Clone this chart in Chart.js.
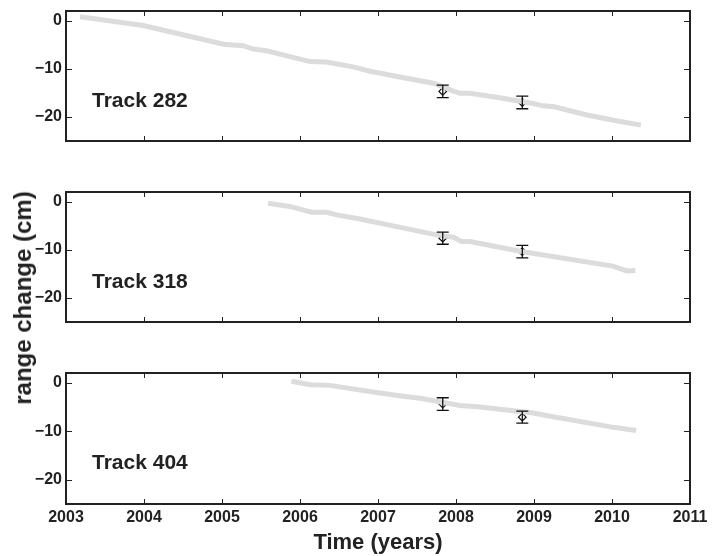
<!DOCTYPE html>
<html>
<head>
<meta charset="utf-8">
<script src="https://cdn.jsdelivr.net/npm/chart.js@4.4.0/dist/chart.umd.min.js"></script>
<style>
body{margin:0;background:#fff;}
#wrap{position:relative;width:714px;height:556px;}
.panel{position:absolute;left:0;width:714px;}
#ytitle{position:absolute;left:23px;top:298px;transform:translate(-50%,-50%) rotate(-90deg);
  font:bold 24px "Liberation Sans",Arial,sans-serif;color:#222;white-space:nowrap;}
</style>
</head>
<body>
<div id="wrap">
  <div class="panel" style="top:0;height:150px"><canvas id="c1"></canvas></div>
  <div class="panel" style="top:181px;height:150px"><canvas id="c2"></canvas></div>
  <div class="panel" style="top:362px;height:194px"><canvas id="c3"></canvas></div>
  <div id="ytitle">range change (cm)</div>
</div>
<script>
const xTicks = [2003, 2004, 2005, 2006, 2007, 2008, 2009, 2010, 2011];
const yTicks = [0, -10, -20];

// gray model lines
const t282Years = [2003.18, 2003.99, 2005.02, 2005.27, 2005.40, 2005.57, 2006.13, 2006.34, 2006.68, 2006.90, 2007.28, 2007.71, 2007.96, 2008.05, 2008.18, 2008.56, 2008.99, 2009.12, 2009.26, 2009.68, 2010.02, 2010.37];
const t282Range = [0.8, -1.0, -4.9, -5.2, -5.9, -6.25, -8.5, -8.6, -9.6, -10.5, -11.7, -13.0, -14.6, -15.1, -15.1, -16.0, -17.2, -17.7, -17.9, -19.6, -20.7, -21.7];

const t318Years = [2005.59, 2005.87, 2006.15, 2006.34, 2006.47, 2006.77, 2007.24, 2007.75, 2007.97, 2008.07, 2008.18, 2008.82, 2009.12, 2010.01, 2010.19, 2010.30];
const t318Range = [-0.35, -1.0, -2.2, -2.2, -2.75, -3.6, -5.2, -6.9, -7.4, -8.3, -8.3, -10.3, -11.1, -13.4, -14.4, -14.3];

const t404Years = [2005.89, 2006.13, 2006.38, 2006.98, 2007.32, 2007.54, 2008.05, 2008.31, 2008.99, 2009.12, 2010.02, 2010.31];
const t404Range = [0.3, -0.4, -0.55, -2.0, -2.8, -3.2, -4.7, -5.0, -6.25, -6.65, -9.2, -9.85];

// measurements with error bars
const obsYears = [2007.83, 2008.85];
const obs282 = [-14.7, -17.0];
const err282 = [1.3, 1.3];
const obs318 = [-7.6, -10.4];
const err318 = [1.25, 1.3];
const obs404 = [-4.4, -7.1];
const err404 = [1.3, 1.25];

const FONT = '"Liberation Sans", Arial, sans-serif';
const INK = '#222';

const frame = {
  id: 'frame',
  afterDatasetsDraw(chart, args, opts) {
    const ctx = chart.ctx, xs = chart.scales.x, ys = chart.scales.y;
    const pts = chart.data.datasets[1].data;
    ctx.save();
    ctx.strokeStyle = '#111';
    ctx.lineWidth = 1.3;
    pts.forEach((p, i) => {
      const x = xs.getPixelForValue(p.x);
      const y1 = ys.getPixelForValue(p.y + opts.err[i]);
      const y2 = ys.getPixelForValue(p.y - opts.err[i]);
      ctx.beginPath();
      ctx.moveTo(x, y1); ctx.lineTo(x, y2);
      ctx.moveTo(x - 6, y1); ctx.lineTo(x + 6, y1);
      ctx.moveTo(x - 6, y2); ctx.lineTo(x + 6, y2);
      ctx.stroke();
    });
    ctx.restore();
  },
  afterDraw(chart, args, opts) {
    const ctx = chart.ctx, a = chart.chartArea, xs = chart.scales.x, ys = chart.scales.y;
    ctx.save();
    ctx.strokeStyle = INK;
    ctx.lineWidth = 1;
    ctx.beginPath();
    xTicks.forEach(v => {
      const x = Math.round(xs.getPixelForValue(v)) + 0.5;
      ctx.moveTo(x, a.bottom); ctx.lineTo(x, a.bottom - 5);
      ctx.moveTo(x, a.top); ctx.lineTo(x, a.top + 5);
    });
    yTicks.forEach(v => {
      const y = Math.round(ys.getPixelForValue(v)) + 0.5;
      ctx.moveTo(a.left, y); ctx.lineTo(a.left + 6, y);
      ctx.moveTo(a.right, y); ctx.lineTo(a.right - 6, y);
    });
    ctx.stroke();
    ctx.lineWidth = 2;
    ctx.strokeRect(a.left, a.top, a.right - a.left, a.bottom - a.top);
    ctx.fillStyle = INK;
    ctx.font = 'bold 21px ' + FONT;
    ctx.textBaseline = 'alphabetic';
    ctx.fillText(opts.label, a.left + 26, a.top + 96);
    ctx.restore();
  }
};

function makePanel(id, years, range, obs, err, label, showX, xHeight) {
  new Chart(document.getElementById(id), {
    type: 'line',
    data: {
      datasets: [
        {
          data: years.map((x, i) => ({x: x, y: range[i]})),
          borderColor: '#dcdcdc',
          borderWidth: 5,
          pointRadius: 0,
          tension: 0
        },
        {
          data: obsYears.map((x, i) => ({x: x, y: obs[i]})),
          showLine: false,
          pointStyle: 'rectRot',
          pointRadius: 3.8,
          pointBackgroundColor: '#fff',
          pointBorderColor: '#111',
          pointBorderWidth: 1.2
        }
      ]
    },
    options: {
      responsive: true,
      maintainAspectRatio: false,
      animation: false,
      layout: {padding: {top: 11, right: 24, left: 0, bottom: 0}},
      plugins: {
        legend: {display: false},
        tooltip: {enabled: false},
        frame: {err: err, label: label}
      },
      scales: {
        x: {
          type: 'linear',
          min: 2003,
          max: 2011,
          grid: {display: false, drawTicks: false},
          border: {display: false},
          afterBuildTicks: s => { s.ticks = xTicks.map(v => ({value: v})); },
          afterFit: s => { s.height = xHeight; s.paddingLeft = 0; s.paddingRight = 0; },
          ticks: {
            display: showX,
            color: INK,
            padding: 4,
            maxRotation: 0,
            font: {family: FONT, size: 16, weight: 'bold'},
            callback: v => String(v)
          },
          title: {
            display: showX,
            text: 'Time (years)',
            color: INK,
            padding: {top: 2, bottom: 0},
            font: {family: FONT, size: 22, weight: 'bold'}
          }
        },
        y: {
          min: -25,
          max: 2,
          grid: {display: false, drawTicks: false},
          border: {display: false},
          afterBuildTicks: s => { s.ticks = yTicks.map(v => ({value: v})); },
          afterFit: s => { s.width = 66; s.paddingTop = 0; s.paddingBottom = 0; },
          ticks: {
            color: INK,
            padding: 4,
            font: {family: FONT, size: 16, weight: 'bold'},
            callback: v => v < 0 ? '\u2212' + Math.abs(v) : String(v)
          }
        }
      }
    },
    plugins: [frame]
  });
}

makePanel('c1', t282Years, t282Range, obs282, err282, 'Track 282', false, 9);
makePanel('c2', t318Years, t318Range, obs318, err318, 'Track 318', false, 9);
makePanel('c3', t404Years, t404Range, obs404, err404, 'Track 404', true, 52);
</script>
</body>
</html>
